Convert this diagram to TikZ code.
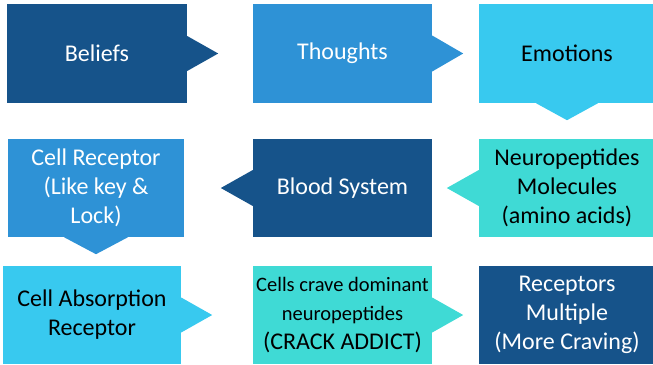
\documentclass[tikz,border=0pt]{standalone}
\usepackage{fontspec}
\setmainfont{Carlito}
\definecolor{darkblue}{HTML}{16538A}
\definecolor{midblue}{HTML}{2E92D6}
\definecolor{skyblue}{HTML}{38C9EF}
\definecolor{turq}{HTML}{3FDAD5}
\newcommand{\smalltxt}{\fontsize{20.5bp}{25bp}\selectfont}
\newcommand{\bigtxt}{\fontsize{24bp}{29bp}\selectfont}
\begin{document}
\begin{tikzpicture}[x=1bp,y=1bp,
  flowbox/.style={inner sep=0pt, align=center, minimum height=98bp, font=\bigtxt}]
\useasboundingbox (0,0) rectangle (653,-364);
% first row
\node[flowbox, fill=darkblue, text=white, minimum width=180bp, minimum height=99bp] (beliefs) at (97,-53.5) {Beliefs};
\node[flowbox, fill=midblue, text=white, minimum width=179bp, minimum height=99bp] (thoughts) at (342.5,-53.5) {Thoughts};
\node[flowbox, fill=skyblue, text=black, minimum width=176bp, minimum height=99bp] (emotions) at (567,-53.5) {Emotions};
% second row
\node[flowbox, fill=midblue, text=white, minimum width=176bp] (receptor) at (96,-188) {Cell Receptor\\(Like key \&\\Lock)};
\node[flowbox, fill=darkblue, text=white, minimum width=179bp] (blood) at (342.5,-188) {Blood System};
\node[flowbox, fill=turq, text=black, minimum width=176bp] (neuro) at (567,-188) {Neuropeptides\\Molecules\\(amino acids)};
% third row
\node[flowbox, fill=skyblue, text=black, minimum width=178bp] (absorb) at (92,-315) {Cell Absorption\\Receptor};
\node[flowbox, fill=turq, text=black, minimum width=179bp] (crave) at (342.5,-315) {\smalltxt Cells crave dominant\\\smalltxt neuropeptides\\\bigtxt (CRACK ADDICT)};
\node[flowbox, fill=darkblue, text=white, minimum width=176bp] (multiple) at (567,-315) {Receptors\\Multiple\\(More Craving)};

% pointers
\fill[darkblue] ([yshift=17.5bp]beliefs.east) -- ([xshift=31bp]beliefs.east) -- ([yshift=-17.5bp]beliefs.east) -- cycle;
\fill[midblue] ([yshift=18bp]thoughts.east) -- ([xshift=31bp]thoughts.east) -- ([yshift=-18bp]thoughts.east) -- cycle;
\fill[skyblue] ([xshift=-31bp]emotions.south) -- ([yshift=-17bp]emotions.south) -- ([xshift=31bp]emotions.south) -- cycle;
\fill[midblue] ([xshift=-32bp]receptor.south) -- ([yshift=-17bp]receptor.south) -- ([xshift=32bp]receptor.south) -- cycle;
\fill[darkblue] ([yshift=18bp]blood.west) -- ([xshift=-32bp]blood.west) -- ([yshift=-18bp]blood.west) -- cycle;
\fill[turq] ([yshift=18bp]neuro.west) -- ([xshift=-32bp]neuro.west) -- ([yshift=-18bp]neuro.west) -- cycle;
\fill[skyblue] ([yshift=17.5bp]absorb.east) -- ([xshift=31bp]absorb.east) -- ([yshift=-17.5bp]absorb.east) -- cycle;
\fill[turq] ([yshift=17.5bp]crave.east) -- ([xshift=31bp]crave.east) -- ([yshift=-17.5bp]crave.east) -- cycle;
\end{tikzpicture}
\end{document}
